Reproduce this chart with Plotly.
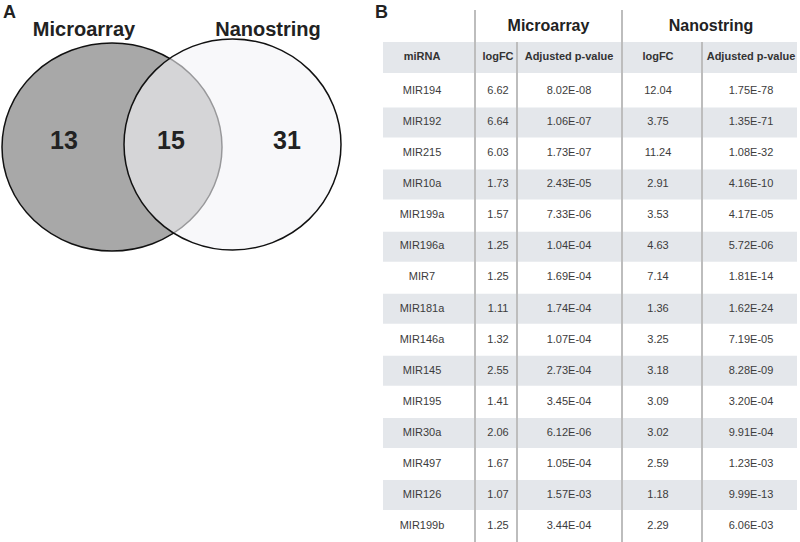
import plotly.graph_objects as go

# ---------------- data ----------------
venn_sets = ["Microarray", "Nanostring"]
venn_counts = [13, 15, 31]  # microarray only, both, nanostring only

group_headers = ["Microarray", "Nanostring"]
col_headers = ["miRNA", "logFC", "Adjusted p-value", "logFC", "Adjusted p-value"]
mirna = ["MIR194", "MIR192", "MIR215", "MIR10a", "MIR199a", "MIR196a", "MIR7",
         "MIR181a", "MIR146a", "MIR145", "MIR195", "MIR30a", "MIR497", "MIR126", "MIR199b"]
micro_logfc = ["6.62", "6.64", "6.03", "1.73", "1.57", "1.25", "1.25", "1.11", "1.32",
               "2.55", "1.41", "2.06", "1.67", "1.07", "1.25"]
micro_padj = ["8.02E-08", "1.06E-07", "1.73E-07", "2.43E-05", "7.33E-06", "1.04E-04",
              "1.69E-04", "1.74E-04", "1.07E-04", "2.73E-04", "3.45E-04", "6.12E-06",
              "1.05E-04", "1.57E-03", "3.44E-04"]
nano_logfc = ["12.04", "3.75", "11.24", "2.91", "3.53", "4.63", "7.14", "1.36", "3.25",
              "3.18", "3.09", "3.02", "2.59", "1.18", "2.29"]
nano_padj = ["1.75E-78", "1.35E-71", "1.08E-32", "4.16E-10", "4.17E-05", "5.72E-06",
             "1.81E-14", "1.62E-24", "7.19E-05", "8.28E-09", "3.20E-04", "9.91E-04",
             "1.23E-03", "9.99E-13", "6.06E-03"]

# ---------------- layout helpers ----------------
FONT = "Arial, Liberation Sans, Helvetica, sans-serif"
W, H = 800, 542
col_x = [422, 498, 569, 658, 751]
group_x = [548.5, 711]
header_y = 57.5
row0_y = 91.5
row_h = 31.04
band_x0, band_x1 = 383, 797

def row_y(i):
    return row0_y + i * row_h

fig = go.Figure()
shapes = []

# ---------------- Venn ----------------
shapes.append(dict(type="circle", xref="x", yref="y", x0=2, x1=222, y0=43, y1=251,
                   fillcolor="#a8a8a8", line=dict(color="#111111", width=1.5), layer="below"))
shapes.append(dict(type="circle", xref="x", yref="y", x0=124, x1=341, y0=39, y1=250,
                   fillcolor="rgba(243,244,247,0.6)", line=dict(color="#111111", width=1.5),
                   layer="below"))

fig.add_trace(go.Scatter(
    x=[64, 171, 287], y=[143, 143, 143], mode="text",
    text=[str(v) for v in venn_counts], texttemplate="<b>%{text}</b>",
    textfont=dict(family=FONT, size=25, color="#222222"),
    hoverinfo="skip", showlegend=False))
fig.add_trace(go.Scatter(
    x=[84, 268], y=[31, 31], mode="text", text=venn_sets,
    textfont=dict(family=FONT, size=20, color="#222222"),
    texttemplate="<b>%{text}</b>",
    hoverinfo="skip", showlegend=False))

# panel letters
for lab, px in (("A", 9), ("B", 381)):
    fig.add_annotation(x=px, y=12, xref="x", yref="y", text="<b>%s</b>" % lab,
                       showarrow=False, font=dict(family=FONT, size=18, color="#222222"))

# ---------------- Table ----------------
band_color = "#e4e7eb"
shapes.append(dict(type="rect", xref="x", yref="y", x0=band_x0, x1=band_x1,
                   y0=42, y1=73, fillcolor=band_color, line=dict(width=0), layer="below"))
for i in range(len(mirna)):
    if i % 2 == 1:
        shapes.append(dict(type="rect", xref="x", yref="y", x0=band_x0, x1=band_x1,
                           y0=row_y(i) - 15, y1=row_y(i) + 15, fillcolor=band_color,
                           line=dict(width=0), layer="below"))

line_color = "#bdbdbd"
for lx, ly0 in ((475, 10), (517, 42), (622, 10), (702, 42)):
    shapes.append(dict(type="line", xref="x", yref="y", x0=lx, x1=lx, y0=ly0, y1=H,
                       line=dict(color=line_color, width=2), layer="below"))

# group headers
fig.add_trace(go.Scatter(
    x=group_x, y=[27, 27], mode="text", text=group_headers,
    texttemplate="<b>%{text}</b>",
    textfont=dict(family=FONT, size=16, color="#222222"),
    hoverinfo="skip", showlegend=False))
# column headers
fig.add_trace(go.Scatter(
    x=col_x, y=[header_y] * len(col_headers), mode="text", text=col_headers,
    texttemplate="<b>%{text}</b>",
    textfont=dict(family=FONT, size=11, color="#333333"),
    hoverinfo="skip", showlegend=False))
# body
columns = [mirna, micro_logfc, micro_padj, nano_logfc, nano_padj]
for cx, vals in zip(col_x, columns):
    fig.add_trace(go.Scatter(
        x=[cx] * len(vals), y=[row_y(i) for i in range(len(vals))], mode="text",
        text=vals, textfont=dict(family=FONT, size=11, color="#3c3c3c"),
        hoverinfo="skip", showlegend=False))

fig.update_layout(
    width=W, height=H, margin=dict(l=0, r=0, t=0, b=0),
    paper_bgcolor="white", plot_bgcolor="white",
    shapes=shapes, showlegend=False,
    xaxis=dict(range=[0, W], visible=False, fixedrange=True),
    yaxis=dict(range=[H, 0], visible=False, fixedrange=True),
)

fig.write_html("out.html",
               config={"displayModeBar": False, "staticPlot": True},
               post_script="document.body.style.margin='0';document.body.style.padding='0';"
                           "document.body.style.overflow='hidden';")
